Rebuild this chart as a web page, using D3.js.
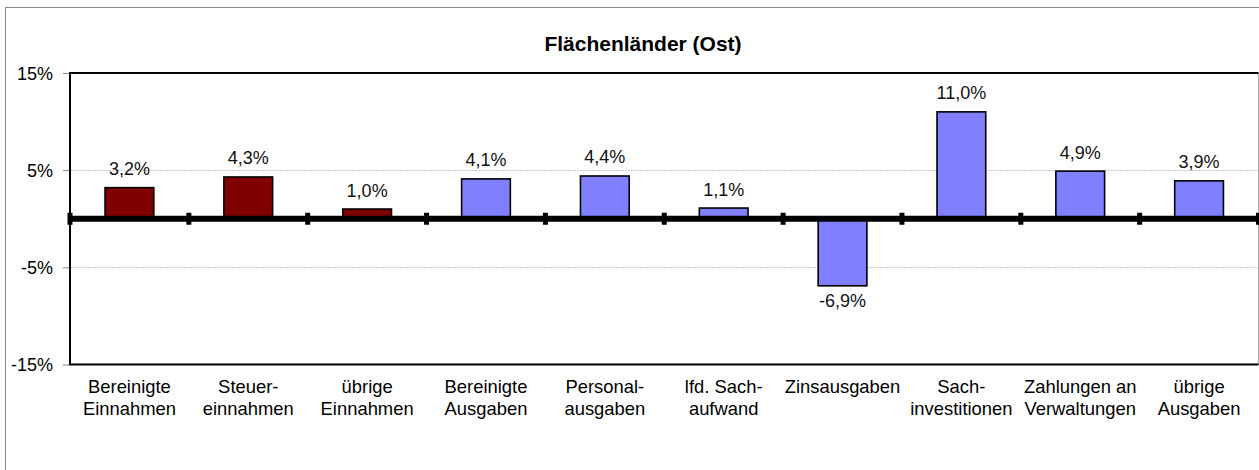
<!DOCTYPE html>
<html>
<head>
<meta charset="utf-8">
<script src="https://cdn.jsdelivr.net/npm/d3@7"></script>
<style>
  body { margin: 0; background: #fff; }
  svg { display: block; font-family: "Liberation Sans", Arial, sans-serif; }
  .tick text { font-size: 18px; fill: #000; }
</style>
</head>
<body>
<svg id="chart" width="1259" height="470"></svg>
<script>
const titleText = 'Flächenländer (Ost)';
const categories = [
  ['Bereinigte', 'Einnahmen'],
  ['Steuer-', 'einnahmen'],
  ['übrige', 'Einnahmen'],
  ['Bereinigte', 'Ausgaben'],
  ['Personal-', 'ausgaben'],
  ['lfd. Sach-', 'aufwand'],
  ['Zinsausgaben'],
  ['Sach-', 'investitionen'],
  ['Zahlungen an', 'Verwaltungen'],
  ['übrige', 'Ausgaben']
];
const values = [3.2, 4.3, 1.0, 4.1, 4.4, 1.1, -6.9, 11.0, 4.9, 3.9];
const groups = ['ein', 'ein', 'ein', 'aus', 'aus', 'aus', 'aus', 'aus', 'aus', 'aus'];
const yTicks = [-15, -5, 5, 15];

const svg = d3.select('#chart');
const margin = { left: 70, top: 73, right: 0.5, bottom: 105.5 };
const width = 1259, height = 470;

const xScale = d3.scaleBand()
  .domain(d3.range(values.length))
  .range([margin.left, width - margin.right])
  .paddingInner(0.59)
  .paddingOuter(0.295);

const yScale = d3.scaleLinear()
  .domain([-15, 15])
  .range([height - margin.bottom, margin.top]);

const colorScale = d3.scaleOrdinal()
  .domain(['ein', 'aus'])
  .range(['#800000', '#8080ff']);

// German decimal comma, plain hyphen for negatives
const fmt = v => (v < 0 ? '-' : '') + Math.abs(v).toFixed(1).replace('.', ',') + '%';

// outer frame
svg.append('rect')
  .attr('x', 5.5).attr('y', 7.5)
  .attr('width', 1300).attr('height', 500)
  .attr('fill', 'none')
  .attr('stroke', '#888');

// title
svg.append('text')
  .attr('x', 643)
  .attr('y', 51)
  .attr('text-anchor', 'middle')
  .style('font-size', '21px')
  .style('font-weight', 'bold')
  .text(titleText);

// gridlines
svg.append('g')
  .selectAll('line')
  .data([-5, 5])
  .join('line')
    .attr('x1', margin.left).attr('x2', width - margin.right)
    .attr('y1', d => Math.round(yScale(d)) + 0.5)
    .attr('y2', d => Math.round(yScale(d)) + 0.5)
    .attr('stroke', '#c8c8c8')
    .attr('stroke-dasharray', '2,1');

// plot frame
svg.append('line')
  .attr('x1', width - margin.right).attr('x2', width - margin.right)
  .attr('y1', yScale(15)).attr('y2', yScale(-15))
  .attr('stroke', '#aaa');
svg.append('path')
  .attr('d', `M${width - margin.right},${yScale(15)}H${margin.left}V${yScale(-15)}H${width - margin.right}`)
  .attr('fill', 'none')
  .attr('stroke', '#000')
  .attr('stroke-width', 2);

// y axis
const yAxis = d3.axisLeft(yScale)
  .tickValues(yTicks)
  .tickSize(6)
  .tickPadding(10)
  .tickFormat(d => d + '%');

const yAxisG = svg.append('g')
  .attr('transform', `translate(${margin.left - 1},0)`)
  .call(yAxis);
yAxisG.select('.domain').remove();
yAxisG.selectAll('.tick line').attr('stroke', '#888');
yAxisG.selectAll('.tick text').attr('dy', '0.36em');

// bars
svg.append('g')
  .selectAll('rect')
  .data(values)
  .join('rect')
    .attr('x', (d, i) => xScale(i))
    .attr('width', xScale.bandwidth())
    .attr('y', d => yScale(Math.max(0, d)))
    .attr('height', d => Math.abs(yScale(d) - yScale(0)))
    .attr('fill', (d, i) => colorScale(groups[i]))
    .attr('stroke', '#000')
    .attr('stroke-width', 1.6);

// zero line with category ticks
svg.append('line')
  .attr('x1', margin.left).attr('x2', width)
  .attr('y1', yScale(0)).attr('y2', yScale(0))
  .attr('stroke', '#000')
  .attr('stroke-width', 6);

svg.append('g')
  .selectAll('rect')
  .data(d3.range(values.length + 1))
  .join('rect')
    .attr('x', i => margin.left + i * xScale.step() - 2.5)
    .attr('y', yScale(0) - 6)
    .attr('width', 5)
    .attr('height', 12)
    .attr('fill', '#000');

// value labels
svg.append('g')
  .selectAll('text')
  .data(values)
  .join('text')
    .attr('x', (d, i) => xScale(i) + xScale.bandwidth() / 2)
    .attr('y', d => d >= 0 ? yScale(d) - 12.5 : yScale(d) + 21.5)
    .attr('text-anchor', 'middle')
    .style('font-size', '18px')
    .attr('fill', '#111')
    .text(fmt);

// category labels
const catG = svg.append('g')
  .selectAll('text')
  .data(categories)
  .join('text')
    .attr('x', (d, i) => xScale(i) + xScale.bandwidth() / 2)
    .attr('y', 393)
    .attr('text-anchor', 'middle')
    .style('font-size', '18.4px')
    .attr('fill', '#000');
catG.selectAll('tspan')
  .data(d => d)
  .join('tspan')
    .attr('x', function () { return this.parentNode.getAttribute('x'); })
    .attr('dy', (d, i) => i === 0 ? 0 : 21.7)
    .text(d => d);
</script>
</body>
</html>
